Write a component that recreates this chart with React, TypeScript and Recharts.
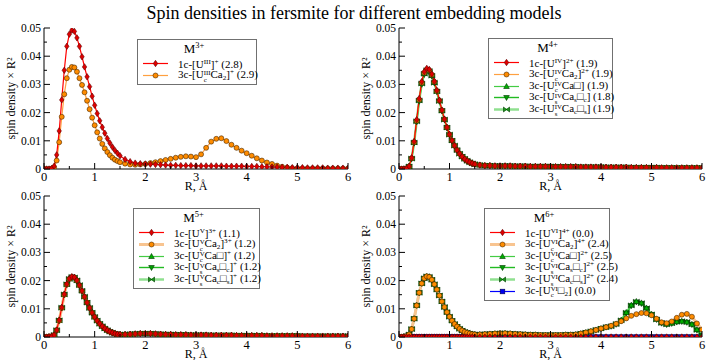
import React from 'react';
import { LineChart, Line, XAxis, YAxis, Legend } from 'recharts';

const FONT = '"Liberation Serif", "Times New Roman", serif';

// radial grid (Å): finer steps through the main peak
const R = [
  0, 0.05, 0.1, 0.15, 0.2, 0.25, 0.3, 0.35, 0.4, 0.45, 0.5, 0.55, 0.6, 0.65, 0.7, 0.75, 0.8, 0.85, 0.9, 0.95,
  1, 1.05, 1.1, 1.15, 1.2, 1.25, 1.3, 1.35, 1.4, 1.45, 1.5,
  1.6, 1.7, 1.8, 1.9, 2, 2.1, 2.2, 2.3, 2.4, 2.5, 2.6, 2.7, 2.8, 2.9, 3, 3.1, 3.2, 3.3, 3.4, 3.5,
  3.6, 3.7, 3.8, 3.9, 4, 4.1, 4.2, 4.3, 4.4, 4.5, 4.6, 4.7, 4.8, 4.9, 5, 5.1, 5.2, 5.3, 5.4, 5.5,
  5.6, 5.7, 5.8, 5.9, 6,
];

const X_TICKS = [0, 0.5, 1, 1.5, 2, 2.5, 3, 3.5, 4, 4.5, 5, 5.5, 6];
const Y_TICKS = [0, 0.005, 0.01, 0.015, 0.02, 0.025, 0.03, 0.035, 0.04, 0.045, 0.05];

// ---- M3+ ----
const M3_1C = [
  0, 0, 0, 0.0002, 0.001, 0.005, 0.0135, 0.0245, 0.035, 0.0435, 0.0478, 0.0492, 0.0488, 0.0465, 0.0435, 0.0398,
  0.0362, 0.0327, 0.0292, 0.0258, 0.0226, 0.0197, 0.0171, 0.0148, 0.0127, 0.0108, 0.0092, 0.0078, 0.0066, 0.0056, 0.0047,
  0.0034, 0.0026, 0.0021, 0.0019, 0.0018, 0.0017, 0.0016, 0.0015, 0.0014, 0.0013,
  0.0013, 0.0012, 0.0012, 0.0012, 0.0011, 0.0011, 0.0011, 0.0011, 0.0011, 0.0011,
  0.001, 0.001, 0.001, 0.001, 0.0009, 0.0009, 0.0009, 0.0008, 0.0008, 0.0007,
  0.0007, 0.0006, 0.0006, 0.0005, 0.0005, 0.0005, 0.0004, 0.0004, 0.0004, 0.0004,
  0.0003, 0.0003, 0.0003, 0.0003, 0.0003,
];
const M3_3C_CA2 = [
  0, 0, 0, 0.0001, 0.0006, 0.003, 0.0095, 0.0185, 0.0265, 0.0322, 0.0352, 0.0362, 0.036, 0.0345, 0.0322, 0.0298,
  0.0272, 0.0242, 0.0212, 0.0182, 0.0155, 0.013, 0.0108, 0.0089, 0.0073, 0.006, 0.0049, 0.004, 0.0033, 0.0028, 0.0024,
  0.0019, 0.0016, 0.0015, 0.0016, 0.0018, 0.0021, 0.0024, 0.0028, 0.0032, 0.0036,
  0.004, 0.0043, 0.0045, 0.0044, 0.0042, 0.0052, 0.0075, 0.0097, 0.0107, 0.0109,
  0.0099, 0.0086, 0.0075, 0.0065, 0.0056, 0.0047, 0.0038, 0.003, 0.0023, 0.0018,
  0.0012, 0.0008, 0.0005, 0.0003, 0.0002, 0.0002, 0.0002, 0.0002, 0.0002, 0.0002,
  0.0002, 0.0002, 0.0002, 0.0002, 0.0002,
];

// ---- M4+ ----
const M4_TAIL = [
  0.0014, 0.0012, 0.0012, 0.0011, 0.0011, 0.0011, 0.0011, 0.001, 0.001, 0.001,
  0.0009, 0.0009, 0.0009, 0.0009, 0.0009, 0.0008, 0.0008, 0.0008, 0.0008, 0.0008,
  0.0007, 0.0007, 0.0007, 0.0007, 0.0007, 0.0006, 0.0006, 0.0006, 0.0006, 0.0006,
  0.0005, 0.0005, 0.0005, 0.0005, 0.0005, 0.0005, 0.0004, 0.0004, 0.0004, 0.0004,
  0.0004, 0.0004, 0.0004, 0.0004, 0.0004,
];
const M4_1C = [
  0, 0, 0, 0.0002, 0.001, 0.004, 0.0098, 0.0175, 0.025, 0.031, 0.0345, 0.0357, 0.0353, 0.0337, 0.0311, 0.0279,
  0.0244, 0.0209, 0.0177, 0.0148, 0.0123, 0.0101, 0.0083, 0.0067, 0.0054, 0.0044, 0.0035, 0.0029, 0.0024, 0.002, 0.0017,
  ...M4_TAIL,
];
const M4_3C_CA2 = [
  0, 0, 0, 0.0002, 0.0009, 0.0038, 0.0095, 0.0171, 0.0246, 0.0306, 0.0341, 0.0353, 0.035, 0.0334, 0.0309, 0.0277,
  0.0243, 0.0208, 0.0176, 0.0147, 0.0122, 0.0101, 0.0083, 0.0067, 0.0054, 0.0044, 0.0036, 0.0029, 0.0024, 0.002, 0.0017,
  ...M4_TAIL,
];
const M4_3C_CAV = [
  0, 0, 0, 0.0002, 0.0009, 0.0037, 0.0094, 0.017, 0.0244, 0.0304, 0.0339, 0.0351, 0.0348, 0.0332, 0.0307, 0.0276,
  0.0242, 0.0207, 0.0176, 0.0147, 0.0122, 0.0101, 0.0083, 0.0067, 0.0055, 0.0044, 0.0036, 0.0029, 0.0024, 0.002, 0.0017,
  ...M4_TAIL,
];
const M4_3C_SSC = [
  0, 0, 0, 0.0002, 0.0009, 0.0036, 0.0092, 0.0167, 0.024, 0.03, 0.0335, 0.0347, 0.0344, 0.0329, 0.0305, 0.0274,
  0.024, 0.0206, 0.0175, 0.0146, 0.0121, 0.01, 0.0082, 0.0067, 0.0054, 0.0044, 0.0036, 0.0029, 0.0024, 0.002, 0.0017,
  ...M4_TAIL,
];
const M4_3C_SCS = [
  0, 0, 0, 0.0002, 0.0009, 0.0037, 0.0094, 0.0169, 0.0243, 0.0303, 0.0338, 0.035, 0.0347, 0.0331, 0.0306, 0.0275,
  0.0241, 0.0207, 0.0175, 0.0147, 0.0122, 0.0101, 0.0083, 0.0067, 0.0054, 0.0044, 0.0036, 0.0029, 0.0024, 0.002, 0.0017,
  ...M4_TAIL,
];

// ---- M5+ ----
const M5_TAIL = [
  0.0009, 0.001, 0.0011, 0.0012, 0.0012, 0.0012, 0.0011, 0.001, 0.0009, 0.0009,
  0.0008, 0.0008, 0.0008, 0.0007, 0.0007, 0.0007, 0.0007, 0.0006, 0.0006, 0.0006,
  0.0006, 0.0006, 0.0005, 0.0005, 0.0005, 0.0005, 0.0005, 0.0005, 0.0004, 0.0004,
  0.0004, 0.0004, 0.0004, 0.0004, 0.0004, 0.0003, 0.0003, 0.0003, 0.0003, 0.0003,
  0.0003, 0.0003, 0.0003, 0.0003, 0.0003,
];
const M5_1C = [
  0, 0, 0.0001, 0.0002, 0.0007, 0.0025, 0.006, 0.0105, 0.0152, 0.0188, 0.0207, 0.0214, 0.0212, 0.0201, 0.0184, 0.0164,
  0.0143, 0.0122, 0.0103, 0.0086, 0.0071, 0.0058, 0.0047, 0.0038, 0.003, 0.0024, 0.0019, 0.0015, 0.0012, 0.001, 0.0009,
  ...M5_TAIL,
];
const M5_3C_CA2 = [
  0, 0, 0.0001, 0.0002, 0.0007, 0.0024, 0.0058, 0.0103, 0.015, 0.0186, 0.0206, 0.0213, 0.0211, 0.02, 0.0183, 0.0163,
  0.0142, 0.0122, 0.0103, 0.0086, 0.0071, 0.0058, 0.0047, 0.0038, 0.0031, 0.0024, 0.0019, 0.0015, 0.0012, 0.001, 0.0009,
  ...M5_TAIL,
];
const M5_3C_CAV = [
  0, 0, 0.0001, 0.0002, 0.0007, 0.0024, 0.0059, 0.0104, 0.0151, 0.0187, 0.0206, 0.0213, 0.0211, 0.02, 0.0184, 0.0164,
  0.0143, 0.0122, 0.0103, 0.0086, 0.0071, 0.0058, 0.0047, 0.0038, 0.003, 0.0024, 0.0019, 0.0015, 0.0012, 0.001, 0.0009,
  ...M5_TAIL,
];
const M5_3C_SSC = [
  0, 0, 0.0001, 0.0002, 0.0007, 0.0024, 0.0058, 0.0103, 0.015, 0.0186, 0.0205, 0.0212, 0.021, 0.02, 0.0183, 0.0163,
  0.0142, 0.0122, 0.0103, 0.0086, 0.0071, 0.0058, 0.0047, 0.0038, 0.003, 0.0024, 0.0019, 0.0015, 0.0012, 0.001, 0.0009,
  ...M5_TAIL,
];
const M5_3C_SCS = [
  0, 0, 0.0001, 0.0002, 0.0007, 0.0024, 0.0059, 0.0104, 0.0151, 0.0187, 0.0206, 0.0213, 0.0211, 0.0201, 0.0184, 0.0164,
  0.0143, 0.0122, 0.0103, 0.0086, 0.0071, 0.0058, 0.0047, 0.0038, 0.003, 0.0024, 0.0019, 0.0015, 0.0012, 0.001, 0.0009,
  ...M5_TAIL,
];

// ---- M6+ ----
const M6_1C = [
  0, 0, 0, 0, 0, 0, 0, 0, 0, 0, 0, 0, 0, 0, 0, 0, 0, 0, 0, 0, 0, 0, 0, 0, 0, 0, 0, 0, 0, 0, 0,
  0, 0, 0, 0, 0, 0, 0, 0, 0, 0, 0, 0, 0, 0, 0, 0, 0, 0, 0, 0, 0, 0, 0, 0, 0, 0, 0, 0, 0, 0,
  0, 0, 0, 0, 0, 0, 0, 0, 0, 0, 0, 0, 0, 0, 0,
];
// 3c clusters share the U peak and the region up to 4.1 Å
const M6_3C_INNER = [
  0, 0, 0.0001, 0.0003, 0.0009, 0.0028, 0.0065, 0.0112, 0.0157, 0.019, 0.0208, 0.0215, 0.0213, 0.0203, 0.0187, 0.0168,
  0.0147, 0.0126, 0.0106, 0.0088, 0.0072, 0.0058, 0.0046, 0.0037, 0.0029, 0.0023, 0.0018, 0.0015, 0.0012, 0.001, 0.0009,
  0.0009, 0.001, 0.0011, 0.0012, 0.0013, 0.0013, 0.0012, 0.0011, 0.001, 0.0009,
  0.0008, 0.0008, 0.0007, 0.0007, 0.0007, 0.0007, 0.0007, 0.0008, 0.0008, 0.0009,
  0.0012, 0.0016, 0.002, 0.0025, 0.003, 0.0035,
];
const M6_3C_CA2 = [
  ...M6_3C_INNER,
  0.004, 0.0047, 0.0056, 0.0066, 0.0075, 0.0081, 0.0085, 0.0084, 0.0077, 0.0065,
  0.0052, 0.0049, 0.0055, 0.0068, 0.0079, 0.0082, 0.0072, 0.0048, 0.0026,
];
const M6_3C_CAV = [
  ...M6_3C_INNER,
  0.0039, 0.0046, 0.006, 0.0087, 0.0113, 0.0126, 0.0121, 0.0103, 0.0081, 0.0063,
  0.005, 0.0045, 0.0049, 0.0054, 0.0056, 0.0053, 0.0045, 0.0026, 0.0006,
];
const M6_3C_SSC = [
  ...M6_3C_INNER,
  0.0038, 0.0045, 0.0058, 0.0085, 0.0111, 0.0124, 0.0119, 0.0101, 0.008, 0.0062,
  0.0049, 0.0044, 0.0048, 0.0053, 0.0055, 0.0052, 0.0044, 0.0025, 0.0005,
];
const M6_3C_SCS = [
  ...M6_3C_INNER,
  0.0038, 0.0046, 0.0059, 0.0086, 0.0112, 0.0125, 0.012, 0.0102, 0.008, 0.0062,
  0.005, 0.0045, 0.0049, 0.0054, 0.0056, 0.0053, 0.0045, 0.0025, 0.0005,
];
const M6_3C_V2 = [
  0, 0, 0, 0, 0, 0, 0, 0, 0, 0, 0, 0, 0, 0, 0, 0, 0, 0, 0, 0, 0, 0, 0, 0, 0, 0, 0, 0, 0, 0, 0,
  0, 0, 0, 0, 0, 0, 0, 0, 0, 0, 0, 0, 0, 0, 0, 0, 0, 0, 0, 0, 0, 0, 0, 0, 0, 0, 0, 0, 0, 0,
  0, 0, 0, 0, 0, 0, 0, 0, 0, 0, 0, 0, 0, 0, 0,
];

type Shape = 'diamond' | 'circle' | 'triUp' | 'triDown' | 'bowtie' | 'square';
type Look = { line: string; width: number; shape: Shape; fill: string; edge: string };

const LOOK: Record<string, Look> = {
  red: { line: '#ff0000', width: 1.2, shape: 'diamond', fill: '#e00000', edge: '#5a0000' },
  orange: { line: '#ffa040', width: 1.2, shape: 'circle', fill: '#ff8c00', edge: '#4a2800' },
  orangeWide: { line: '#f8c490', width: 3, shape: 'circle', fill: '#ff8c00', edge: '#4a2800' },
  greenUp: { line: '#44cc44', width: 1.2, shape: 'triUp', fill: '#00b000', edge: '#003300' },
  greenDown: { line: '#22bb22', width: 1.4, shape: 'triDown', fill: '#00a000', edge: '#003300' },
  greenBow: { line: '#90e090', width: 2.5, shape: 'bowtie', fill: '#18a018', edge: '#003300' },
  blue: { line: '#0000ff', width: 1.2, shape: 'square', fill: '#0000ee', edge: '#000050' },
};

type Series = { label: string; values: number[]; look: Look };
type PanelDef = {
  charge: string;
  left: number;
  top: number;
  axisWidth: number;
  legend: { left: number; top: number; width: number };
  series: Series[];
};

const PANELS: PanelDef[] = [
  {
    charge: '3+', left: 0, top: 0, axisWidth: 44,
    legend: { left: 137, top: 39, width: 120 },
    series: [
      { label: '1c-[U^{III}]^{+} (2.8)', values: M3_1C, look: LOOK.red },
      { label: '3c-[U_{c}^{III}Ca_{2}]^{+} (2.9)', values: M3_3C_CA2, look: LOOK.orange },
    ],
  },
  {
    charge: '4+', left: 354, top: 0, axisWidth: 45,
    legend: { left: 134, top: 38, width: 125 },
    series: [
      { label: '1c-[U^{IV}]^{2+} (1.9)', values: M4_1C, look: LOOK.red },
      { label: '3c-[U_{c}^{IV}Ca_{2}]^{2+} (1.9)', values: M4_3C_CA2, look: LOOK.orange },
      { label: '3c-[U_{c}^{IV}Ca□] (1.9)', values: M4_3C_CAV, look: LOOK.greenUp },
      { label: '3c-[U_{s}^{IV}Ca_{s}□_{c}] (1.8)', values: M4_3C_SSC, look: LOOK.greenDown },
      { label: '3c-[U_{s}^{IV}Ca_{c}□_{s}] (1.9)', values: M4_3C_SCS, look: LOOK.greenBow },
    ],
  },
  {
    charge: '5+', left: 0, top: 168, axisWidth: 44,
    legend: { left: 133, top: 40, width: 127 },
    series: [
      { label: '1c-[U^{V}]^{3+} (1.1)', values: M5_1C, look: LOOK.red },
      { label: '3c-[U_{c}^{V}Ca_{2}]^{3+} (1.2)', values: M5_3C_CA2, look: LOOK.orangeWide },
      { label: '3c-[U_{c}^{V}Ca□]^{+} (1.2)', values: M5_3C_CAV, look: LOOK.greenUp },
      { label: '3c-[U_{s}^{V}Ca_{s}□_{c}]^{+} (1.2)', values: M5_3C_SSC, look: LOOK.greenDown },
      { label: '3c-[U_{s}^{V}Ca_{c}□_{s}]^{+} (1.2)', values: M5_3C_SCS, look: LOOK.greenBow },
    ],
  },
  {
    charge: '6+', left: 354, top: 168, axisWidth: 45,
    legend: { left: 130, top: 40, width: 126 },
    series: [
      { label: '1c-[U^{VI}]^{4+} (0.0)', values: M6_1C, look: LOOK.red },
      { label: '3c-[U_{c}^{VI}Ca_{2}]^{4+} (2.4)', values: M6_3C_CA2, look: LOOK.orangeWide },
      { label: '3c-[U_{c}^{VI}Ca□]^{2+} (2.5)', values: M6_3C_CAV, look: LOOK.greenUp },
      { label: '3c-[U_{s}^{VI}Ca_{s}□_{c}]^{2+} (2.5)', values: M6_3C_SSC, look: LOOK.greenDown },
      { label: '3c-[U_{s}^{VI}Ca_{c}□_{s}]^{2+} (2.4)', values: M6_3C_SCS, look: LOOK.greenBow },
      { label: '3c-[U_{c}^{VI}□_{2}] (0.0)', values: M6_3C_V2, look: LOOK.blue },
    ],
  },
];

const CHART_W = 354;
const CHART_H = 196;
const X_AXIS_H = 27;
const PLOT_BOTTOM = CHART_H - X_AXIS_H;

const Marker = ({ cx, cy, look }: { cx: number; cy: number; look: Look }) => {
  const common = { fill: look.fill, stroke: look.edge, strokeWidth: 0.6 };
  switch (look.shape) {
    case 'diamond':
      return <path d={`M${cx},${cy - 3.2}L${cx + 2.2},${cy}L${cx},${cy + 3.2}L${cx - 2.2},${cy}Z`} {...common} />;
    case 'circle':
      return <circle cx={cx} cy={cy} r={2.5} {...common} />;
    case 'triUp':
      return <path d={`M${cx},${cy - 3}L${cx + 2.8},${cy + 2}L${cx - 2.8},${cy + 2}Z`} {...common} />;
    case 'triDown':
      return <path d={`M${cx},${cy + 3}L${cx + 2.8},${cy - 2}L${cx - 2.8},${cy - 2}Z`} {...common} />;
    case 'bowtie':
      return <path d={`M${cx - 3},${cy - 2.5}L${cx + 3},${cy + 2.5}L${cx + 3},${cy - 2.5}L${cx - 3},${cy + 2.5}Z`} {...common} />;
    default:
      return <rect x={cx - 2.3} y={cy - 2.3} width={4.6} height={4.6} {...common} />;
  }
};

// tiny markup: a_{sub}, a^{sup}, stacked when both follow each other
type Piece = { t: string; sub?: string; sup?: string };
const parseLabel = (s: string): Piece[] => {
  const out: Piece[] = [];
  let buf = '';
  let i = 0;
  while (i < s.length) {
    if ((s[i] === '_' || s[i] === '^') && s[i + 1] === '{') {
      if (buf) {
        out.push({ t: buf });
        buf = '';
      }
      const p: Piece = { t: '' };
      while (i < s.length && (s[i] === '_' || s[i] === '^') && s[i + 1] === '{') {
        const kind = s[i];
        const end = s.indexOf('}', i);
        const v = s.slice(i + 2, end);
        if (kind === '_') p.sub = v;
        else p.sup = v;
        i = end + 1;
      }
      out.push(p);
    } else {
      buf += s[i];
      i += 1;
    }
  }
  if (buf) out.push({ t: buf });
  return out;
};

const RichText = ({ text }: { text: string }) => (
  <>
    {parseLabel(text).map((p, k) => {
      if (p.sub !== undefined && p.sup !== undefined) {
        return (
          <span key={k} style={{ display: 'inline-block', fontSize: '0.62em', lineHeight: 0.95, verticalAlign: '-0.55em', textAlign: 'left' }}>
            <span style={{ display: 'block' }}>{p.sup}</span>
            <span style={{ display: 'block' }}>{p.sub}</span>
          </span>
        );
      }
      if (p.sup !== undefined) {
        return <span key={k} style={{ fontSize: '0.65em', position: 'relative', top: '-0.55em' }}>{p.sup}</span>;
      }
      if (p.sub !== undefined) {
        return <span key={k} style={{ fontSize: '0.65em', position: 'relative', top: '0.3em' }}>{p.sub}</span>;
      }
      return <span key={k}>{p.t}</span>;
    })}
  </>
);

const LegendBox = ({ panel }: { panel: PanelDef }) => (
  <div
    style={{
      boxSizing: 'border-box',
      width: panel.legend.width,
      border: '1px solid #707070',
      background: '#fff',
      padding: '1px 0 3px 0',
      fontFamily: FONT,
      color: '#000',
    }}
  >
    <div style={{ textAlign: 'center', fontSize: 13, lineHeight: '15px', paddingRight: 6 }}>
      <RichText text={`M^{${panel.charge}}`} />
    </div>
    {panel.series.map((s, k) => (
      <div key={k} style={{ display: 'flex', alignItems: 'center', height: 11.7, fontSize: 11, whiteSpace: 'nowrap' }}>
        <svg width={36} height={11} style={{ flex: 'none' }}>
          <line x1={5} x2={30} y1={5.5} y2={5.5} stroke={s.look.line} strokeWidth={s.look.width} />
          <Marker cx={17.5} cy={5.5} look={s.look} />
        </svg>
        <span style={{ marginLeft: 4 }}>
          <RichText text={s.label} />
        </span>
      </div>
    ))}
  </div>
);

const isMajorX = (v: number) => Math.abs(v - Math.round(v)) < 1e-6;
const isMajorY = (v: number) => Math.abs(v * 100 - Math.round(v * 100)) < 1e-6;

const textStyle = (size: number) => ({ fontFamily: FONT, fontSize: size, fill: '#000' });

const BottomTick = ({ x, y, payload }: any) => {
  const major = isMajorX(payload.value);
  return (
    <g>
      <line x1={x} x2={x} y1={y} y2={y - (major ? 6 : 3)} stroke="#000" />
      {major && (
        <text x={x} y={y + 11.5} textAnchor="middle" style={textStyle(12.5)}>
          {payload.value}
        </text>
      )}
    </g>
  );
};

const TopTick = ({ x, y, payload }: any) => (
  <line x1={x} x2={x} y1={y} y2={y + (isMajorX(payload.value) ? 6 : 3)} stroke="#000" />
);

const LeftTick = ({ x, y, payload }: any) => {
  const v = payload.value;
  const major = isMajorY(v);
  return (
    <g>
      <line x1={x} x2={x + (major ? 6 : 3)} y1={y} y2={y} stroke="#000" />
      {major && (
        <text x={x - 3} y={y} dy="0.35em" textAnchor="end" style={textStyle(11.5)}>
          {v === 0 ? '0' : v.toFixed(2)}
        </text>
      )}
    </g>
  );
};

const RightTick = ({ x, y, payload }: any) => (
  <line x1={x} x2={x - (isMajorY(payload.value) ? 6 : 3)} y1={y} y2={y} stroke="#000" />
);

const XTitle = ({ viewBox }: any) => (
  <text x={viewBox.x + viewBox.width / 2} y={PLOT_BOTTOM + 21} textAnchor="middle" style={textStyle(12)}>
    R, Å
  </text>
);

const YTitle = ({ viewBox }: any) => {
  const cx = viewBox.x + viewBox.width - 33;
  const cy = viewBox.y + viewBox.height / 2;
  return (
    <text x={cx} y={cy} transform={`rotate(-90 ${cx} ${cy})`} textAnchor="middle" dy="0.35em" style={textStyle(12)}>
      spin density × R²
    </text>
  );
};

const Panel = ({ panel }: { panel: PanelDef }) => {
  const data = R.map((r, i) => {
    const row: Record<string, number> = { r };
    panel.series.forEach((s, k) => {
      row[`s${k}`] = s.values[i];
    });
    return row;
  });
  // first legend entry ends up on top
  const order = panel.series.map((_, k) => k).reverse();

  return (
    <div style={{ position: 'absolute', left: panel.left, top: panel.top }}>
      <LineChart width={CHART_W} height={CHART_H} data={data} margin={{ top: 28, right: 6, bottom: 0, left: 0 }}>
        <XAxis
          xAxisId="b"
          dataKey="r"
          type="number"
          domain={[0, 6]}
          ticks={X_TICKS}
          interval={0}
          allowDataOverflow
          height={X_AXIS_H}
          tickSize={0}
          tickMargin={0}
          tickLine={false}
          axisLine={{ stroke: '#000' }}
          tick={(p: any) => <BottomTick {...p} />}
          label={(p: any) => <XTitle {...p} />}
        />
        <XAxis
          xAxisId="t"
          orientation="top"
          dataKey="r"
          type="number"
          domain={[0, 6]}
          ticks={X_TICKS}
          interval={0}
          allowDataOverflow
          height={0}
          tickSize={0}
          tickMargin={0}
          tickLine={false}
          axisLine={{ stroke: '#000' }}
          tick={(p: any) => <TopTick {...p} />}
        />
        <YAxis
          yAxisId="l"
          type="number"
          domain={[0, 0.05]}
          ticks={Y_TICKS}
          interval={0}
          allowDataOverflow
          width={panel.axisWidth}
          tickSize={0}
          tickMargin={0}
          tickLine={false}
          axisLine={{ stroke: '#000' }}
          tick={(p: any) => <LeftTick {...p} />}
          label={(p: any) => <YTitle {...p} />}
        />
        <YAxis
          yAxisId="r"
          orientation="right"
          type="number"
          domain={[0, 0.05]}
          ticks={Y_TICKS}
          interval={0}
          allowDataOverflow
          width={0}
          tickSize={0}
          tickMargin={0}
          tickLine={false}
          axisLine={{ stroke: '#000' }}
          tick={(p: any) => <RightTick {...p} />}
        />
        {order.map((k) => {
          const look = panel.series[k].look;
          return (
            <Line
              key={k}
              xAxisId="b"
              yAxisId="l"
              type="linear"
              dataKey={`s${k}`}
              stroke={look.line}
              strokeWidth={look.width}
              isAnimationActive={false}
              activeDot={false}
              dot={(p: any) => <Marker key={`d${k}-${p.index}`} cx={p.cx} cy={p.cy} look={look} />}
            />
          );
        })}
        <Legend
          layout="vertical"
          align="center"
          verticalAlign="middle"
          content={() => <LegendBox panel={panel} />}
          wrapperStyle={{ left: panel.legend.left, top: panel.legend.top, width: panel.legend.width, height: 'auto' }}
        />
      </LineChart>
    </div>
  );
};

const App = () => (
  <div
    style={{
      position: 'absolute',
      left: 0,
      top: 0,
      width: 708,
      height: 360,
      background: '#fff',
      overflow: 'hidden',
      fontFamily: FONT,
    }}
  >
    {PANELS.map((p) => (
      <Panel key={p.charge} panel={p} />
    ))}
    <div
      style={{
        position: 'absolute',
        top: 2,
        left: 0,
        width: 708,
        textAlign: 'center',
        fontSize: 18,
        lineHeight: '22px',
        color: '#000',
      }}
    >
      Spin densities in fersmite for different embedding models
    </div>
  </div>
);

export default App;
